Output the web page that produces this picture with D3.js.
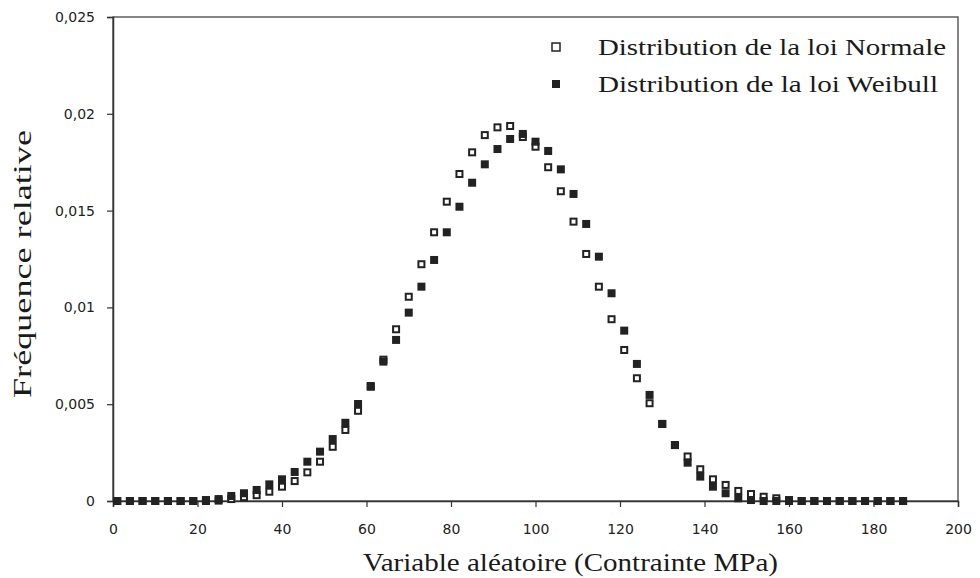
<!DOCTYPE html>
<html>
<head>
<meta charset="utf-8">
<script src="https://cdn.jsdelivr.net/npm/d3@7"></script>
<style>
  body { margin: 0; background: #fff; }
</style>
</head>
<body>
<div id="container"></div>
<script>
/* CONSTANTS AND GLOBALS */
const width = 980,
  height = 578,
  margin = { top: 17, right: 22, bottom: 77, left: 113 };

// class centres (MPa)
const classes = [1, 4, 7, 10, 13, 16, 19, 22, 25, 28, 31, 34, 37, 40, 43, 46, 49, 52, 55, 58,
  61, 64, 67, 70, 73, 76, 79, 82, 85, 88, 91, 94, 97, 100, 103, 106, 109, 112, 115, 118,
  121, 124, 127, 130, 133, 136, 139, 142, 145, 148, 151, 154, 157, 160, 163, 166, 169, 172, 175, 178,
  181, 184, 187];

// relative frequency, normal law (open squares)
const normalFreq = [0, 0, 0, 0, 0, 0, 0, 0, 0.00002, 0.0001, 0.0002, 0.0003, 0.00048, 0.00074, 0.00103, 0.00148, 0.00203, 0.0028, 0.00367, 0.00466,
  0.0059, 0.0073, 0.00887, 0.01055, 0.01223, 0.01388, 0.01546, 0.01689, 0.01801, 0.0189, 0.0193, 0.01937, 0.0188, 0.0183, 0.01724, 0.016, 0.01443, 0.01276, 0.01107, 0.00939,
  0.0078, 0.00634, 0.00505, 0.00398, 0.00289, 0.0023, 0.00164, 0.00112, 0.00083, 0.00052, 0.00036, 0.00022, 0.00014, 0.00005, 0, 0, 0, 0, 0, 0,
  0, 0, 0];

// relative frequency, Weibull law (filled squares)
const weibullFreq = [0, 0, 0, 0, 0, 0, 0, 0.00005, 0.0001, 0.00026, 0.0004, 0.00057, 0.00086, 0.00112, 0.0015, 0.00203, 0.00255, 0.0032, 0.00404, 0.00501,
  0.00594, 0.0072, 0.00832, 0.00973, 0.01107, 0.01245, 0.01388, 0.0152, 0.01644, 0.01739, 0.01818, 0.0187, 0.01896, 0.01856, 0.01808, 0.01713, 0.01586, 0.01431, 0.01262, 0.01073,
  0.0088, 0.00708, 0.00548, 0.00398, 0.00289, 0.00198, 0.00126, 0.00074, 0.0004, 0.00014, 0.00005, 0, 0, 0, 0, 0, 0, 0, 0, 0,
  0, 0, 0];

const xTicks = [0, 20, 40, 60, 80, 100, 120, 140, 160, 180, 200];
const yTicks = [0, 0.005, 0.01, 0.015, 0.02, 0.025];
const yTickLabels = ["0", "0,005", "0,01", "0,015", "0,02", "0,025"];
const legendLabels = ["Distribution de la loi Normale", "Distribution de la loi Weibull"];

const ink = "#222";
const size = 8;
const serif = "'Liberation Serif', 'Times New Roman', serif";

// + SCALES
const xScale = d3.scaleLinear()
  .domain([0, 200])
  .range([margin.left, width - margin.right]);

const yScale = d3.scaleLinear()
  .domain([0, 0.025])
  .range([height - margin.bottom, margin.top]);

// + AXES
const xAxis = d3.axisBottom(xScale)
  .tickValues(xTicks)
  .tickSize(6)
  .tickPadding(17)
  .tickFormat(d3.format("d"));

const yAxis = d3.axisLeft(yScale)
  .tickValues(yTicks)
  .tickSize(6)
  .tickPadding(12)
  .tickFormat((d, i) => yTickLabels[i]);

// + CREATE SVG ELEMENT
const svg = d3.select("#container")
  .append("svg")
  .attr("width", width)
  .attr("height", height);

// plot frame
svg.append("rect")
  .attr("x", xScale(0))
  .attr("y", yScale(0.025))
  .attr("width", xScale(200) - xScale(0))
  .attr("height", yScale(0) - yScale(0.025))
  .attr("fill", "none")
  .attr("stroke", "#444")
  .attr("stroke-width", 1.3);

const xAxisGroup = svg.append("g")
  .attr("transform", `translate(0, ${yScale(0)})`)
  .call(xAxis);

const yAxisGroup = svg.append("g")
  .attr("transform", `translate(${xScale(0)}, 0)`)
  .call(yAxis);

[xAxisGroup, yAxisGroup].forEach(g => {
  g.attr("font-family", "'DejaVu Sans', sans-serif").attr("font-size", 14);
  g.selectAll(".tick text").attr("fill", ink);
  g.select(".domain").attr("stroke", "#333").attr("stroke-width", 1.5);
  g.selectAll(".tick line").attr("stroke", "#333").attr("stroke-width", 1.2);
});

// + DRAW POINTS (normal first, Weibull drawn on top)
svg.append("g")
  .selectAll("rect")
  .data(classes)
  .join("rect")
  .attr("x", (d, i) => xScale(d) - size / 2 + 1)
  .attr("y", (d, i) => yScale(normalFreq[i]) - size / 2 + 1)
  .attr("width", size - 2)
  .attr("height", size - 2)
  .attr("fill", "#fff")
  .attr("stroke", ink)
  .attr("stroke-width", 2);

svg.append("g")
  .selectAll("rect")
  .data(classes)
  .join("rect")
  .attr("x", d => xScale(d) - size / 2)
  .attr("y", (d, i) => yScale(weibullFreq[i]) - size / 2)
  .attr("width", size)
  .attr("height", size)
  .attr("fill", ink);

// + LEGEND
const legend = svg.append("g");
legendLabels.forEach((label, i) => {
  const cy = 47 + i * 37;
  legend.append("rect")
    .attr("x", 552)
    .attr("y", cy - 4)
    .attr("width", 8)
    .attr("height", 8)
    .attr("fill", i === 0 ? "#fff" : ink)
    .attr("stroke", ink)
    .attr("stroke-width", i === 0 ? 1.5 : 0);
  legend.append("text")
    .attr("font-family", serif)
    .attr("fill", "#1a1a1a")
    .attr("x", 598)
    .attr("y", cy + 8)
    .attr("font-size", 24)
    .attr("textLength", i === 0 ? 348 : 340)
    .attr("lengthAdjust", "spacingAndGlyphs")
    .text(label);
});

// + AXIS TITLES
svg.append("text")
  .attr("font-family", serif)
  .attr("fill", "#1a1a1a")
  .attr("x", 363)
  .attr("y", 571)
  .attr("font-size", 25)
  .attr("textLength", 415)
  .attr("lengthAdjust", "spacingAndGlyphs")
  .text("Variable aléatoire (Contrainte MPa)");

svg.append("text")
  .attr("font-family", serif)
  .attr("fill", "#1a1a1a")
  .attr("transform", `translate(31, 398) rotate(-90)`)
  .attr("font-size", 25)
  .attr("textLength", 268)
  .attr("lengthAdjust", "spacingAndGlyphs")
  .text("Fréquence relative");
</script>
</body>
</html>
